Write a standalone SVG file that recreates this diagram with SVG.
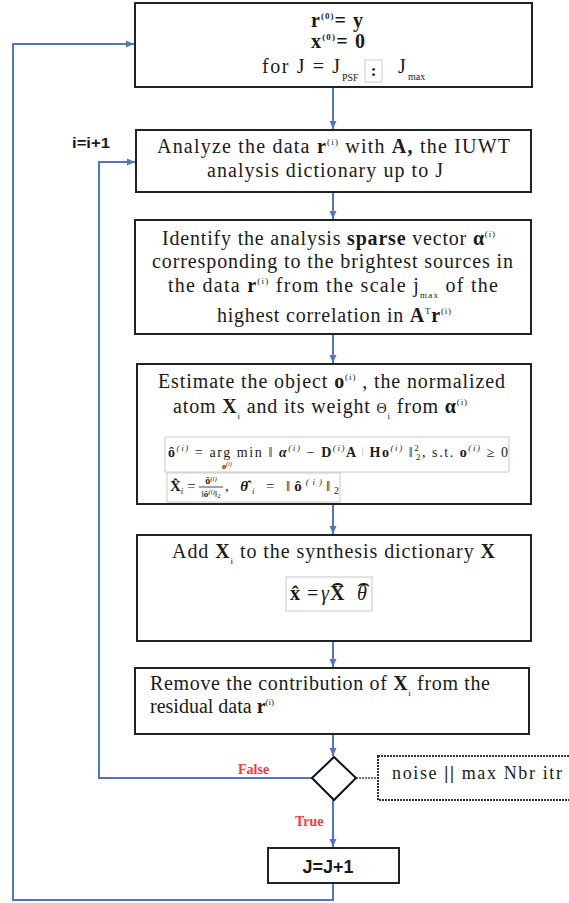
<svg xmlns="http://www.w3.org/2000/svg" width="569" height="903" viewBox="0 0 569 903">
<style>
.box{fill:#fff;stroke:#222;stroke-width:2}
.conn{fill:none;stroke:#4f78b9;stroke-width:2}
.t{font-family:"Liberation Serif",serif;font-size:20px;fill:#1a1a1a}
.b{font-weight:bold}
.sup{font-size:9px}
.sub{font-size:9px}
.m{font-family:"Liberation Serif",serif;font-size:14px;fill:#1a1a1a}
.mbox{fill:#fff;stroke:#c8c8c8;stroke-width:1}
.sans{font-family:"Liberation Sans",Arial,sans-serif;font-weight:bold;fill:#1a1a1a}
.red{font-family:"Liberation Serif",serif;font-weight:bold;font-size:14px;fill:#f03c3c}
.hat{font-family:"DejaVu Sans",sans-serif;font-size:20px;fill:#1a1a1a}
</style>
<defs>
<marker id="arr" markerUnits="userSpaceOnUse" markerWidth="8" markerHeight="8" refX="8" refY="4" orient="auto">
<path d="M0,0.5 L8,4 L0,7.5 z" fill="#4f78b9"/>
</marker>
</defs>

<g id="connectors">
<path class="conn" d="M333,87 V129" marker-end="url(#arr)"/>
<path class="conn" d="M333,192 V219" marker-end="url(#arr)"/>
<path class="conn" d="M333,334 V363" marker-end="url(#arr)"/>
<path class="conn" d="M333,504 V534" marker-end="url(#arr)"/>
<path class="conn" d="M333,641 V667" marker-end="url(#arr)"/>
<path class="conn" d="M333,734 V756" marker-end="url(#arr)"/>
<path class="conn" d="M333,800 V847" marker-end="url(#arr)"/>
<path class="conn" d="M312,778 H99 V162 H135" marker-end="url(#arr)"/>
<path class="conn" d="M333,883 V900 H13 V44 H134" marker-end="url(#arr)"/>
<path d="M356,778 H378" fill="none" stroke="#4f78b9" stroke-width="2" stroke-dasharray="2,1"/>
<text class="red" x="238" y="774">False</text>
<text class="red" x="295" y="826">True</text>
<text class="sans" x="72" y="148" style="font-size:14px" textLength="38" lengthAdjust="spacingAndGlyphs">i=i+1</text>
</g>

<g id="init">
<rect class="box" x="135" y="3" width="397" height="84"/>
<text class="t b" x="311" y="27" textLength="52" lengthAdjust="spacing">r<tspan class="sup" dy="-8">(0)</tspan><tspan dy="8">= y</tspan></text>
<text class="t b" x="311" y="48" textLength="54" lengthAdjust="spacing">x<tspan class="sup" dy="-8">(0)</tspan><tspan dy="8">= 0</tspan></text>
<text class="t" x="262" y="73" textLength="78" lengthAdjust="spacing">for J = J</text>
<text class="t" x="342" y="81" style="font-size:10px">PSF</text>
<rect x="365" y="60" width="17" height="22" fill="#fff" stroke="#ccc" stroke-width="1"/>
<text class="t b" x="373.5" y="76" text-anchor="middle" style="font-size:17px">:</text>
<text class="t" x="398" y="73">J</text>
<text class="t" x="408" y="80" style="font-size:10px">max</text>
</g>

<g id="analyze">
<rect class="box" x="136" y="130" width="395" height="62"/>
<text class="t" x="157" y="153" textLength="353" lengthAdjust="spacing">Analyze the data <tspan class="b">r</tspan><tspan class="sup" dy="-8">(i)</tspan><tspan dy="8">  with </tspan><tspan class="b">A,</tspan> the IUWT</text>
<text class="t" x="207" y="177" textLength="236" lengthAdjust="spacing">analysis dictionary up to J</text>
</g>

<g id="identify">
<rect class="box" x="135" y="220" width="396" height="114"/>
<text class="t" x="162" y="245" textLength="333" lengthAdjust="spacing">Identify the analysis <tspan class="b">sparse</tspan> vector <tspan class="b">α</tspan><tspan class="sup" dy="-8">(i)</tspan></text>
<text class="t" x="152" y="268" textLength="361" lengthAdjust="spacing">corresponding to the brightest sources in</text>
<text class="t" x="168" y="292" textLength="330" lengthAdjust="spacing">the data <tspan class="b">r</tspan><tspan class="sup" dy="-8">(i)</tspan><tspan dy="8"> from the scale j</tspan><tspan class="sub" dy="6">max</tspan><tspan dy="-6"> of the</tspan></text>
<text class="t" x="217" y="322" textLength="234" lengthAdjust="spacing">highest correlation in <tspan class="b">A</tspan><tspan class="sup" dy="-8">T</tspan><tspan class="b" dy="8">r</tspan><tspan class="sup" dy="-8">(i)</tspan></text>
</g>

<g id="estimate">
<rect class="box" x="137" y="364" width="394" height="140"/>
<text class="t" x="158" y="388" textLength="347" lengthAdjust="spacing">Estimate the object <tspan class="b">o</tspan><tspan class="sup" dy="-8">(i)</tspan><tspan dy="8"> , the normalized</tspan></text>
<text class="t" x="173" y="413" textLength="294" lengthAdjust="spacing">atom <tspan class="b">X</tspan><tspan class="sub" dy="6">i</tspan><tspan dy="-6"> and its weight </tspan><tspan font-size="14">Θ</tspan><tspan class="sub" dy="6">i</tspan><tspan dy="-6"> from </tspan><tspan class="b">α</tspan><tspan class="sup" dy="-8">(i)</tspan></text>
<rect class="mbox" x="165" y="437" width="344" height="35"/>
<text class="m" x="168" y="457" textLength="340" lengthAdjust="spacing"><tspan class="b">ô</tspan><tspan font-size="9" font-style="italic" dy="-6">(i)</tspan><tspan dy="6"> = arg min ‖ </tspan><tspan class="b" font-style="italic">α</tspan><tspan font-size="9" font-style="italic" dy="-6">(i)</tspan><tspan dy="6"> − </tspan><tspan class="b">D</tspan><tspan font-size="9" font-style="italic" dy="-6">(i)</tspan><tspan class="b" dy="6">A</tspan><tspan fill="#aaa" font-size="10" dy="-3"> | </tspan><tspan class="b" dy="3">Ho</tspan><tspan font-size="9" font-style="italic" dy="-6">(i)</tspan><tspan dy="6"> ‖</tspan><tspan font-size="9" dy="-6">2</tspan><tspan font-size="9" dx="-4.5" dy="9">2</tspan><tspan dy="-3">,  s.t.  </tspan><tspan class="b">o</tspan><tspan font-size="9" font-style="italic" dy="-6">(i)</tspan><tspan dy="6"> ≥ 0</tspan></text>
<text class="m" x="222" y="469" style="font-size:8px"><tspan class="b">o</tspan><tspan font-style="italic" dy="-3" font-size="6">(i)</tspan></text>
<rect class="mbox" x="167" y="473" width="173" height="29"/>
<text class="m" x="170" y="491" style="font-size:15px"><tspan class="b">X̂</tspan><tspan font-size="9" font-style="italic" dy="3">i</tspan><tspan dy="-3"> = </tspan></text>
<text class="m" x="211" y="484" style="font-size:10px" text-anchor="middle"><tspan class="b">ô</tspan><tspan font-style="italic" dy="-3" font-size="7">(i)</tspan></text>
<path d="M199,487 H223" stroke="#1a1a1a" stroke-width="0.8"/>
<text class="m" x="211" y="497" style="font-size:9px" text-anchor="middle">‖<tspan class="b">ô</tspan><tspan font-style="italic" dy="-3" font-size="7">(i)</tspan><tspan dy="3">‖</tspan><tspan font-size="7" dy="1">2</tspan></text>
<text class="m" x="225" y="491" style="font-size:15px" textLength="114" lengthAdjust="spacing">, <tspan font-style="italic" class="b">θ̂</tspan><tspan font-size="9" font-style="italic" dy="3">i</tspan><tspan dy="-3"> = ‖</tspan><tspan class="b">ô</tspan><tspan font-size="9" font-style="italic" dy="-6">(i)</tspan><tspan dy="6">‖</tspan><tspan font-size="10" dy="3">2</tspan></text>
</g>

<g id="add">
<rect class="box" x="137" y="535" width="394" height="106"/>
<text class="t" x="172" y="558" textLength="323" lengthAdjust="spacing">Add <tspan class="b">X</tspan><tspan class="sub" dy="6">i</tspan><tspan dy="-6"> to the synthesis dictionary </tspan><tspan class="b">X</tspan></text>
<rect class="mbox" x="286" y="577" width="86" height="34"/>
<text class="t b" x="290" y="600">x̂</text>
<text class="t" x="307" y="600">=</text>
<text class="t" x="321" y="600" font-style="italic">γ</text>
<text class="t b" x="330" y="600">X</text>
<text class="t" x="357" y="600" font-style="italic">θ</text>
<text class="hat" x="337" y="590" text-anchor="middle">⌢</text>
<text class="hat" x="363" y="590" text-anchor="middle">⌢</text>
</g>

<g id="remove">
<rect class="box" x="135" y="668" width="394" height="66"/>
<text class="t" x="150" y="690" textLength="340" lengthAdjust="spacing">Remove the contribution of <tspan class="b">X</tspan><tspan class="sub" dy="6">i</tspan><tspan dy="-6"> from the</tspan></text>
<text class="t" x="150" y="713">residual data <tspan class="b">r</tspan><tspan class="sup" dy="-8">(i)</tspan></text>
</g>

<g id="decision">
<polygon points="334,757 356,778 334,800 312,778" fill="#fff" stroke="#111" stroke-width="2"/>
</g>

<g id="condition">
<rect x="378" y="756" width="200" height="44" fill="#fff" stroke="#333" stroke-width="2" stroke-dasharray="2,1"/>
<text class="t" x="392" y="779" style="font-size:18px" textLength="170" lengthAdjust="spacing">noise   <tspan class="b">||</tspan> max Nbr itr</text>
</g>

<g id="increment">
<rect class="box" x="268" y="848" width="131" height="35"/>
<text class="sans" x="328" y="873" style="font-size:18px" text-anchor="middle">J=J+1</text>
</g>
</svg>
